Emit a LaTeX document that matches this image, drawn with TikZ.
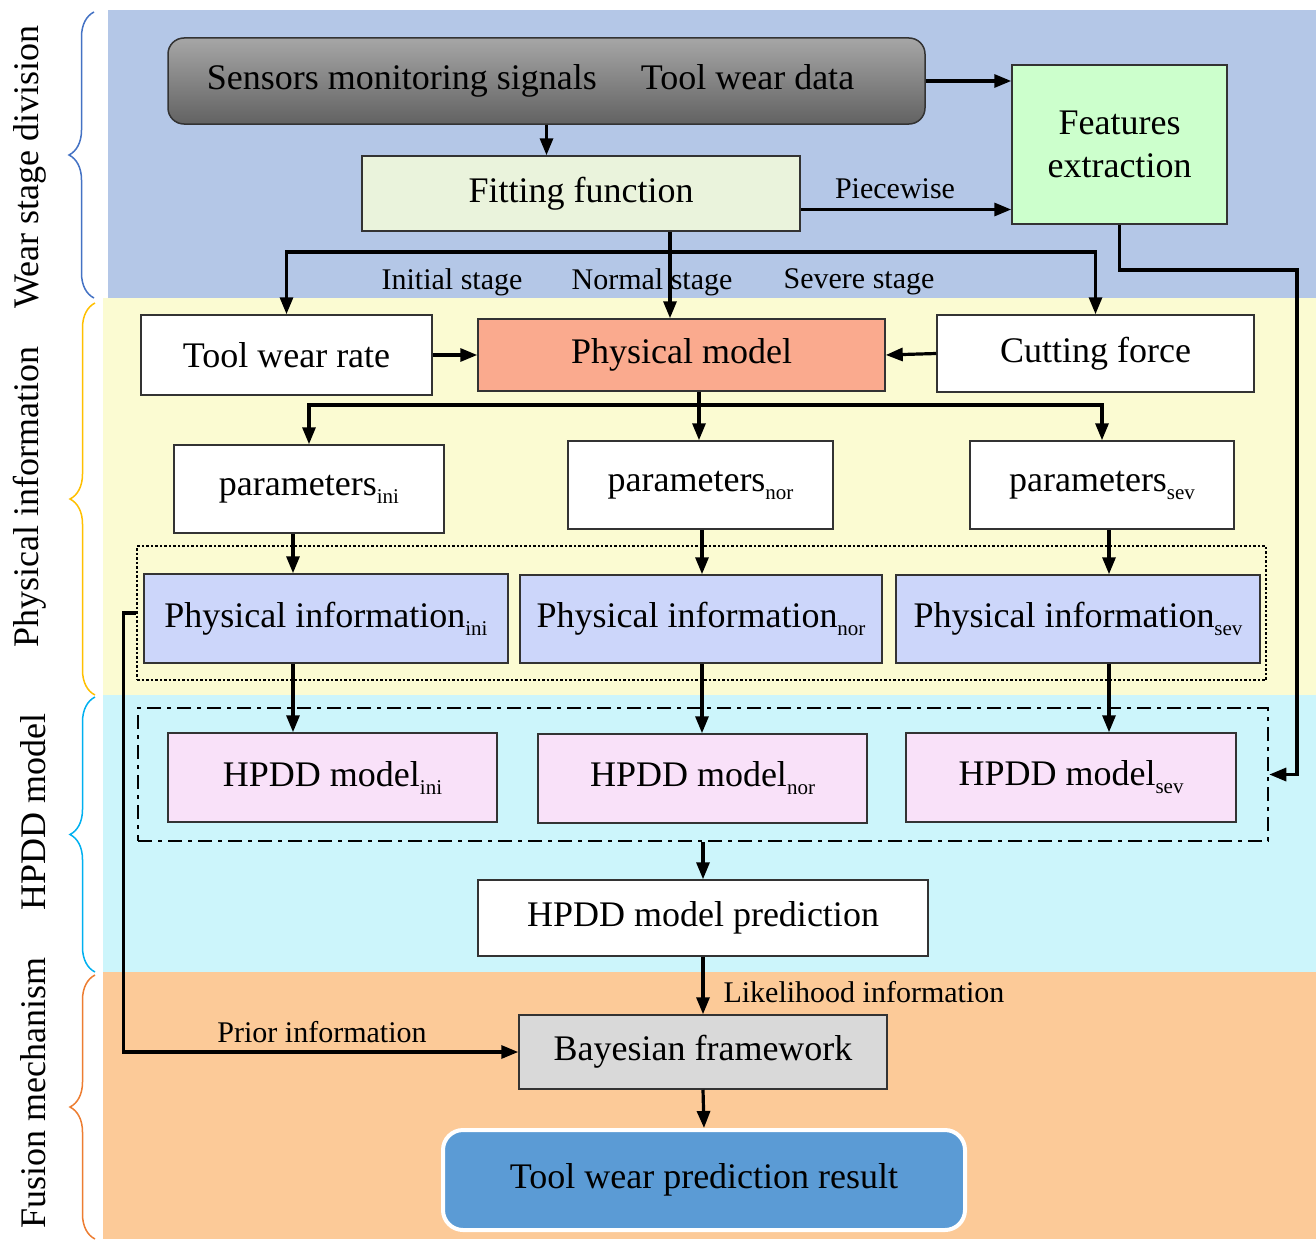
\documentclass[tikz,border=0pt]{standalone}
\usepackage{fontspec}
\setmainfont{Liberation Serif}
\usetikzlibrary{arrows.meta}
\usetikzlibrary{decorations.pathreplacing}
\definecolor{bandblue}{HTML}{B4C7E7}
\definecolor{bandyellow}{HTML}{FBFBD2}
\definecolor{bandcyan}{HTML}{CCF5FB}
\definecolor{bandorange}{HTML}{FCCA98}
\definecolor{sigtop}{HTML}{A6A6A6}
\definecolor{sigbot}{HTML}{626262}
\definecolor{fitgreen}{HTML}{EAF3DC}
\definecolor{featgreen}{HTML}{CCFFCC}
\definecolor{physsalmon}{HTML}{FAAA8E}
\definecolor{infoblue}{HTML}{CCD6FA}
\definecolor{hpddpink}{HTML}{F9E1F9}
\definecolor{bayesgray}{HTML}{D9D9D9}
\definecolor{resultblue}{HTML}{5B9BD5}
\definecolor{braceblue}{HTML}{4472C4}
\definecolor{braceyellow}{HTML}{FFC000}
\definecolor{bracecyan}{HTML}{00B0F0}
\definecolor{braceorange}{HTML}{ED7D31}
\newcommand{\lowtxt}[1]{\raisebox{-8pt}{\fontsize{21}{21}\selectfont #1}}

\begin{document}
\begin{tikzpicture}[x=1pt, y=-1pt]
            \tikzstyle{box} = [draw=black!80, line width=1.5pt, inner sep=0pt, font=\fontsize{36}{43}\selectfont]
            \tikzstyle{link} = [line width=3.2pt, -{Triangle[length=17pt, width=13pt]}]
            \tikzstyle{note} = [font=\fontsize{30}{34}\selectfont]
            \tikzstyle{side} = [rotate=90, font=\fontsize{36}{40}\selectfont]
            \tikzstyle{bracket} = [decorate, decoration={brace, amplitude=25pt}, line width=1.5pt]
            \useasboundingbox (0, 0) rectangle (1316, 1239);
            \fill[white] (0, 0) rectangle (1316, 1239);
            \fill[bandblue] (108, 10) rectangle (1316, 298);
            \fill[bandyellow] (103, 298) rectangle (1316, 695);
            \fill[bandcyan] (103, 695) rectangle (1316, 972);
            \fill[bandorange] (103, 972) rectangle (1316, 1239);
            \draw[bracket, braceblue] (94, 298) -- (94, 12);
            \draw[bracket, braceyellow] (95, 695) -- (95, 303);
            \draw[bracket, bracecyan] (95, 972) -- (95, 697);
            \draw[bracket, braceorange] (95, 1239) -- (95, 975);
            \node[side] (sidewear) at (30, 167) {Wear stage division};
            \node[side] (sidephys) at (30, 497) {Physical information};
            \node[side] (sidehpdd) at (33, 812) {HPDD model};
            \node[side] (sidefusion) at (33, 1093) {Fusion mechanism};

            \node[box, rounded corners=16pt, top color=sigtop, bottom color=sigbot, minimum width=757pt, minimum height=86pt] (sensors) at (546.5, 81) {Sensors monitoring signals\hspace{44pt}Tool wear data\hspace{32pt}\mbox{}};
            \node[box, fill=fitgreen, minimum width=438pt, minimum height=75pt] (fitting) at (581, 193.5) {Fitting function};
            \node[box, fill=featgreen, minimum width=215pt, minimum height=159pt, align=center] (features) at (1119.5, 144.5) {Features\\extraction};
            \node[box, fill=white, minimum width=291pt, minimum height=80pt] (wearrate) at (286.5, 355) {Tool wear rate};
            \node[box, fill=physsalmon, minimum width=407pt, minimum height=72pt] (physmodel) at (681.5, 355) {Physical model};
            \node[box, fill=white, minimum width=317pt, minimum height=77pt] (force) at (1095.5, 353.5) {Cutting force};
            \node[box, fill=white, minimum width=270pt, minimum height=88pt] (parini) at (309, 489) {parameters\lowtxt{ini}};
            \node[box, fill=white, minimum width=265pt, minimum height=88pt] (parnor) at (700.5, 485) {parameters\lowtxt{nor}};
            \node[box, fill=white, minimum width=264pt, minimum height=88pt] (parsev) at (1102, 485) {parameters\lowtxt{sev}};
            \node[draw, dotted, line width=2.5pt, minimum width=1129pt, minimum height=134pt, inner sep=0pt] (infobox) at (701.5, 613) {};
            \node[box, fill=infoblue, minimum width=364pt, minimum height=89pt] (infoini) at (326, 618.5) {Physical information\lowtxt{ini}};
            \node[box, fill=infoblue, minimum width=362pt, minimum height=88pt] (infonor) at (701, 619) {Physical information\lowtxt{nor}};
            \node[box, fill=infoblue, minimum width=364pt, minimum height=88pt] (infosev) at (1078, 619) {Physical information\lowtxt{sev}};
            \node[draw, line width=2.5pt, dash pattern=on 14pt off 6pt on 4pt off 6pt, minimum width=1130pt, minimum height=133pt, inner sep=0pt] (hpddbox) at (703, 774.5) {};
            \node[box, fill=hpddpink, minimum width=329pt, minimum height=89pt] (hpddini) at (332.5, 777.5) {HPDD model\lowtxt{ini}};
            \node[box, fill=hpddpink, minimum width=329pt, minimum height=89pt] (hpddnor) at (702.5, 778.5) {HPDD model\lowtxt{nor}};
            \node[box, fill=hpddpink, minimum width=330pt, minimum height=89pt] (hpddsev) at (1071, 777.5) {HPDD model\lowtxt{sev}};
            \node[box, fill=white, minimum width=450pt, minimum height=76pt] (predict) at (703, 918) {HPDD model prediction};
            \node[box, fill=bayesgray, minimum width=368pt, minimum height=74pt] (bayes) at (703, 1052) {Bayesian framework};
            \node[box, draw=white, line width=4pt, rounded corners=20pt, fill=resultblue, minimum width=522pt, minimum height=100pt] (result) at (704, 1180) {Tool wear prediction result};

            \coordinate (stagesplit) at (670, 252);
            \coordinate (parsplit) at (699, 405);
            \coordinate (colini) at (293, 600);
            \coordinate (colnor) at (702, 600);
            \coordinate (colsev) at (1109, 600);
            \coordinate (featturn) at (1297, 270);

            \draw[link] (sensors.east) -- (sensors.east -| features.west);
            \draw[link] (sensors.south) -- (sensors.south |- fitting.north);
            \draw[link] ([yshift=-16pt]fitting.east) -- ([yshift=-16pt]fitting.east -| features.west);
            \node[note] (piecewise) at (895, 189) {Piecewise};
            \draw[link] (fitting.south -| stagesplit) -- (physmodel.north -| stagesplit);
            \draw[link] (stagesplit) -| (wearrate.north);
            \draw[link] (stagesplit) -| (force.north);
            \node[note] (initial) at (452, 282) {Initial stage};
            \node[note] (normal) at (652, 282) {Normal stage};
            \node[note] (severe) at (859, 282) {Severe stage};
            \draw[link] (features.south) |- (featturn) |- (hpddbox.east);
            \draw[link] (wearrate.east) -- (physmodel.west);
            \draw[link] (force.west) -- (physmodel.east);
            \draw[line width=3.2pt] (physmodel.south -| parsplit) -- (parsplit);
            \draw[link] (parsplit) -| (parini.north);
            \draw[link] (parsplit) -| (parsev.north);
            \draw[link] (parsplit) -- (parnor.north -| parsplit);
            \draw[link] (parini.south -| colini) -- (infoini.north -| colini);
            \draw[link] (parnor.south -| colnor) -- (infonor.north -| colnor);
            \draw[link] (parsev.south -| colsev) -- (infosev.north -| colsev);
            \draw[link] (infoini.south -| colini) -- (hpddini.north -| colini);
            \draw[link] (infonor.south -| colnor) -- (hpddnor.north -| colnor);
            \draw[link] (infosev.south -| colsev) -- (hpddsev.north -| colsev);
            \draw[link] (hpddbox.south -| predict) -- (predict.north);
            \draw[link] (predict.south) -- (bayes.north);
            \node[note, anchor=west] (likelihood) at (720, 992) {Likelihood information};
            \draw[link] (bayes.south) -- (result.north);
            \draw[link] (infobox.west) -- ++(-12, 0) |- (bayes.west);
            \node[note] (prior) at (322, 1032) {Prior information};
        \end{tikzpicture}
\end{document}
